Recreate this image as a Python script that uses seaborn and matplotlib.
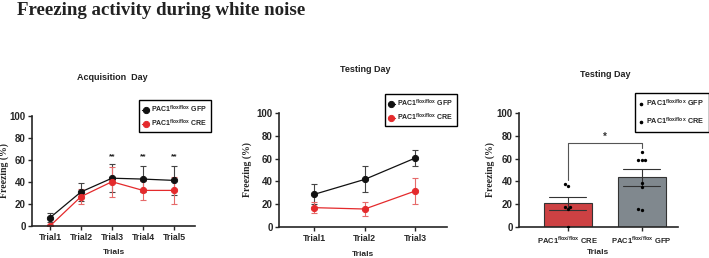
import numpy as np
import pandas as pd
import matplotlib
matplotlib.use('Agg')
import matplotlib.pyplot as plt
from matplotlib.lines import Line2D
import seaborn as sns

# ---------------- data ----------------
acq_trials = ['Trial1', 'Trial2', 'Trial3', 'Trial4', 'Trial5']
acq_gfp = [7.5, 31, 43.5, 42.7, 41.5]
acq_gfp_sem = [4, 8.5, 13, 12, 13]
acq_cre = [0, 26.7, 40.3, 32.4, 32.4]
acq_cre_sem = [0.5, 7, 13.5, 9, 12]
acq_stars = ['', '', '**', '**', '**']

test_trials = ['Trial1', 'Trial2', 'Trial3']
test_gfp = [28.7, 41.8, 60.5]
test_gfp_sem = [8.7, 11.5, 7]
test_cre = [17, 15.8, 31.6]
test_cre_sem = [5, 5.8, 11]

bar_groups = ['CRE', 'GFP']
cre_points = [38, 36, 18, 18, 16, 0]
gfp_points = [66, 59, 59, 59, 39, 35, 15, 16]

GFP_LABEL = r'PAC1$^{\mathbf{flox/flox}}$ GFP'
CRE_LABEL = r'PAC1$^{\mathbf{flox/flox}}$ CRE'
RED = '#e42a2c'
GRAY = '#7e8890'

# ---------------- style ----------------
sns.set_style('ticks')
plt.rcParams['font.family'] = ['Liberation Sans', 'DejaVu Sans']
plt.rcParams['font.weight'] = 'bold'
plt.rcParams['mathtext.fontset'] = 'custom'
plt.rcParams['mathtext.rm'] = 'Liberation Sans:bold'
plt.rcParams['mathtext.bf'] = 'Liberation Sans:bold'
plt.rcParams['axes.linewidth'] = 1.2
plt.rcParams['xtick.major.width'] = 1.0
plt.rcParams['ytick.major.width'] = 1.0
plt.rcParams['xtick.major.size'] = 3
plt.rcParams['ytick.major.size'] = 3

fig = plt.figure(figsize=(7.09, 2.58), dpi=100)

fig.text(0.024, 0.942, 'Freezing activity during white noise', family='Liberation Serif',
         fontweight='bold', fontsize=13.6, color='#222222', va='baseline', ha='left')


def style_axis(ax, xfs=6.3, xpad=5, ypad=1.5):
    sns.despine(ax=ax)
    ax.set_ylim(0, 100)
    ax.set_yticks([0, 20, 40, 60, 80, 100])
    ax.tick_params(axis='y', labelsize=7, pad=1.5)
    ax.tick_params(axis='x', labelsize=xfs, pad=2)
    for t in ax.get_xticklabels() + ax.get_yticklabels():
        t.set_fontweight('bold')
    ax.set_ylabel('Freezing (%)', family='Liberation Serif', fontweight='bold', fontsize=7, labelpad=ypad)
    ax.set_xlabel('Trials', fontweight='bold', fontsize=6, labelpad=xpad)


def line_panel(ax, trials, gfp, gfp_sem, cre, cre_sem):
    df = pd.DataFrame({
        'trial': trials * 2,
        'val': gfp + cre,
        'group': [GFP_LABEL] * len(trials) + [CRE_LABEL] * len(trials),
    })
    sns.pointplot(data=df, x='trial', y='val', hue='group', ax=ax, errorbar=None,
                  palette=['#111111', RED], markers='o', markersize=4.5, linewidth=0.9)
    xs = np.arange(len(trials))
    ax.errorbar(xs, gfp, yerr=gfp_sem, fmt='none', ecolor='#444444', elinewidth=0.8, capsize=2.5, capthick=0.8, zorder=1)
    ax.errorbar(xs, cre, yerr=cre_sem, fmt='none', ecolor='#e66a6a', elinewidth=0.8, capsize=2.5, capthick=0.8, zorder=1)
    handles, labels = ax.get_legend_handles_labels()
    return handles, labels


leg_kw = dict(frameon=True, fancybox=False, framealpha=1, edgecolor='black', fontsize=5,
              handlelength=0.9, handletextpad=0.4, labelspacing=0.4, borderpad=0.5,
              borderaxespad=0, loc='upper left')

# ---- panel 1 ----
ax1 = fig.add_axes([0.0451, 0.124, 0.230, 0.426])
h, l = line_panel(ax1, acq_trials, acq_gfp, acq_gfp_sem, acq_cre, acq_cre_sem)
style_axis(ax1, ypad=0.5)
ax1.set_xlim(-0.58, 4.68)
for i, s in enumerate(acq_stars):
    if s:
        ax1.text(i, 60, s, ha='center', va='bottom', fontsize=6, fontweight='bold', color='#222222')
lg = ax1.legend(h, l, bbox_to_anchor=(0.656, 1.145), **leg_kw)
lg.get_frame().set_linewidth(1.0)
fig.text(0.158, 0.70, 'Acquisition  Day', ha='center', va='center', fontsize=6.5, fontweight='bold', color='#222222')

# ---- panel 2 ----
ax2 = fig.add_axes([0.3935, 0.120, 0.237, 0.442])
h, l = line_panel(ax2, test_trials, test_gfp, test_gfp_sem, test_cre, test_cre_sem)
style_axis(ax2, xpad=6, ypad=3)
ax2.set_xlim(-0.70, 2.63)
lg = ax2.legend(h, l, bbox_to_anchor=(0.63, 1.167), **leg_kw)
lg.get_frame().set_linewidth(1.0)
fig.text(0.515, 0.729, 'Testing Day', ha='center', va='center', fontsize=6.5, fontweight='bold', color='#222222')

# ---- panel 3 ----
ax3 = fig.add_axes([0.732, 0.120, 0.224, 0.442])
pts = pd.DataFrame({
    'group': ['CRE'] * len(cre_points) + ['GFP'] * len(gfp_points),
    'val': cre_points + gfp_points,
})
sns.barplot(data=pts, x='group', y='val', order=bar_groups, hue='group', palette=[RED, GRAY],
            errorbar='se', capsize=0.5, width=0.65, edgecolor='#333333', linewidth=0.8,
            err_kws={'color': '#333333', 'linewidth': 0.8}, ax=ax3, legend=False)
sns.swarmplot(data=pts, x='group', y='val', order=bar_groups, color='black', size=2.4, ax=ax3)
style_axis(ax3, xfs=5.5, xpad=2.5, ypad=1.5)
ax3.set_xlim(-0.66, 1.49)
ax3.set_xticks([0, 1])
ax3.set_xticklabels([CRE_LABEL, GFP_LABEL], fontsize=5.5)
# significance bracket
ax3.plot([0, 0, 1, 1], [41, 73.5, 73.5, 69], color='#555555', lw=0.8)
ax3.text(0.5, 75, '*', ha='center', va='bottom', fontsize=7, fontweight='bold', color='#333333')
hd = [Line2D([], [], marker='o', ls='', color='black', markersize=1.6),
      Line2D([], [], marker='o', ls='', color='black', markersize=1.6)]
lg = ax3.legend(hd, [GFP_LABEL, CRE_LABEL], bbox_to_anchor=(0.73, 1.175),
                **dict(leg_kw, labelspacing=1.0, fontsize=5.2, borderpad=0.6, handlelength=0.6))
lg.get_frame().set_linewidth(1.0)
fig.text(0.853, 0.713, 'Testing Day', ha='center', va='center', fontsize=6.5, fontweight='bold', color='#222222')

fig.savefig('out.png', dpi=100, facecolor='white')
